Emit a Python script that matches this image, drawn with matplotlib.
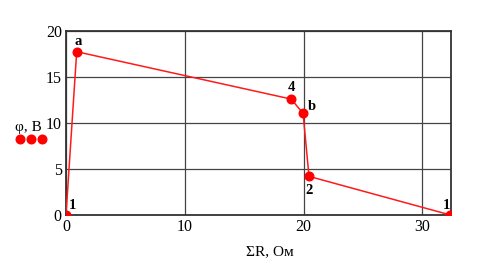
import matplotlib
matplotlib.use("Agg")
import matplotlib.pyplot as plt
from matplotlib.lines import Line2D

R = [0.0, 0.9, 18.95, 19.95, 20.45, 32.35]
phi = [0.0, 17.75, 12.6, 11.05, 4.2, 0.0]
labels = ["1", "a", "4", "b", "2", "1"]
label_offsets = [(5, 7), (1, 7), (0, 8), (6, 5), (0, -10), (-3, 7)]

plt.rcParams['font.family'] = ['Liberation Serif', 'DejaVu Serif']

fig = plt.figure(figsize=(4.89, 2.72), dpi=100)
ax = fig.add_axes([66/489, 1-215/272, (451-66)/489, (215-31)/272])
ax.plot(R, phi, color='#ff1a1a', lw=1.1, marker='o', ms=6.2, mfc='red', mec='red', clip_on=True, zorder=3)
ax.set_xlim(0, 32.4)
ax.set_ylim(0, 20)
ax.set_xticks([0, 10, 20, 30])
ax.set_yticks([0, 5, 10, 15, 20])
ax.grid(True, color='#444444', lw=0.9)
ax.set_axisbelow(True)
for s in ax.spines.values():
    s.set_linewidth(1.3)
    s.set_color('#333333')
ax.tick_params(length=0, labelsize=11.5, pad=3)

for x, y, t, (dx, dy) in zip(R, phi, labels, label_offsets):
    ax.annotate(t, (x, y), xytext=(dx, dy), textcoords='offset points',
                ha='center', va='center', fontsize=10.5, fontweight='bold')

fig.text(270/489, 1-252/272, "ΣR, Ом", ha='center', va='center', fontsize=11)
fig.text(28/489, 1-127/272, "φ, B", ha='center', va='center', fontsize=11)
for xp in [20, 31, 42]:
    fig.add_artist(Line2D([xp/489], [1-139/272], marker='o', ms=6.2, color='red', transform=fig.transFigure))

fig.savefig("out.png", dpi=100)
